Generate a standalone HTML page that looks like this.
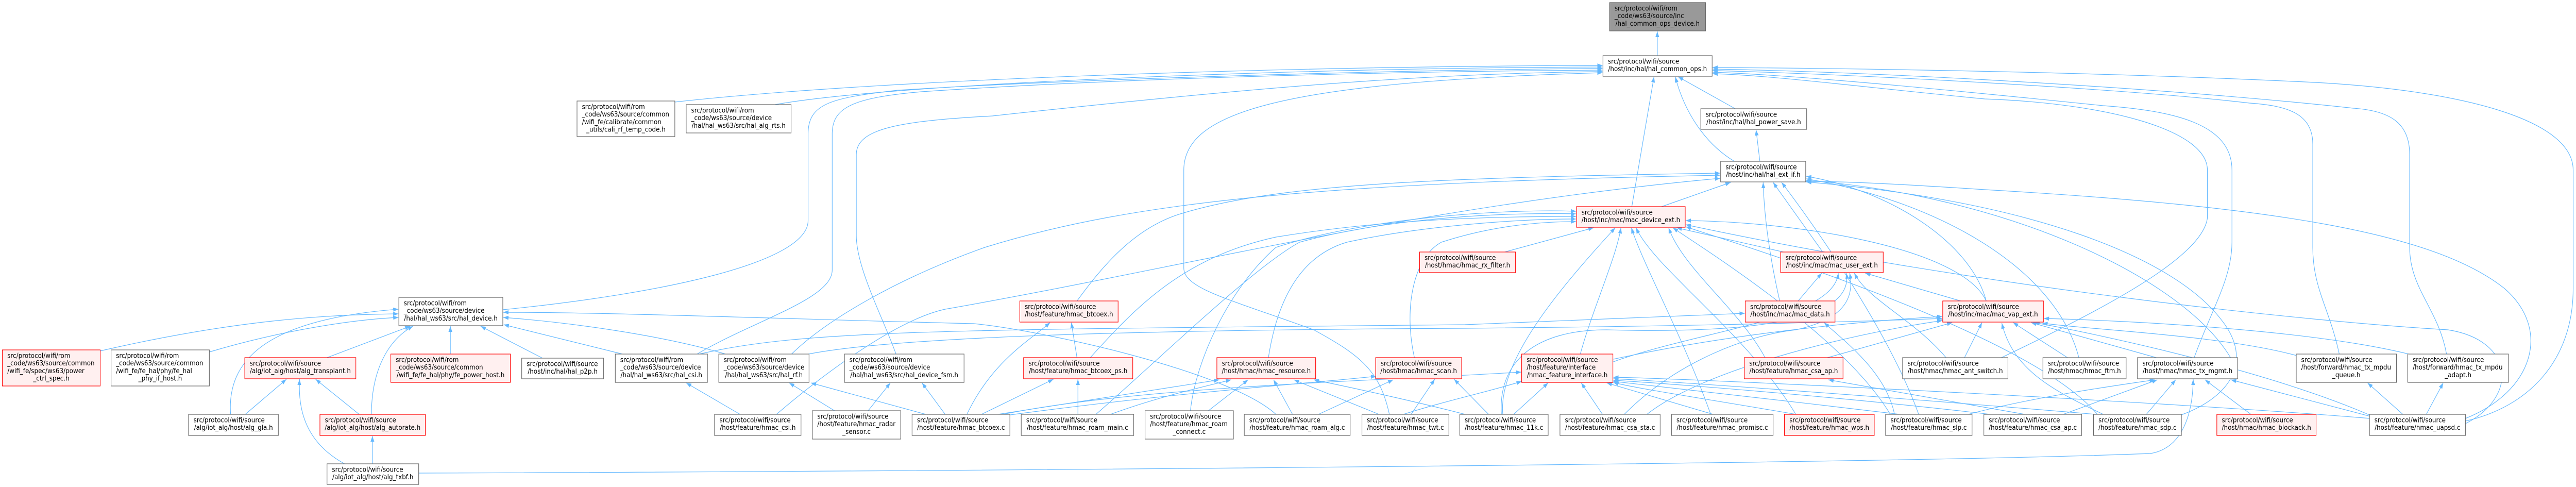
<!DOCTYPE html>
<html><head><meta charset="utf-8"><style>
html,body{margin:0;padding:0;background:#fff;overflow:hidden;width:100%;height:100%;}
svg{display:block;width:100vw;height:100vh;}
.w{fill:#ffffff;stroke:#666666;stroke-width:1.2;}
.r{fill:#fff0f0;stroke:#ff0000;stroke-width:1.2;}
.g{fill:#999999;stroke:#666666;stroke-width:1.2;}
text{font-family:"DejaVu Sans","Liberation Sans",sans-serif;font-size:13px;fill:#000;}
.e path{fill:none;stroke:#63b8ff;stroke-width:1.2;}
</style></head><body>
<svg width="5451" height="945" viewBox="0 0 5451 945" preserveAspectRatio="none" xmlns="http://www.w3.org/2000/svg">
<defs><marker id="a" viewBox="0 0 11 8" refX="11" refY="4" markerWidth="11" markerHeight="8" markerUnits="userSpaceOnUse" orient="auto"><path d="M0,0 L11,4 L0,8 z" fill="#63b8ff"/></marker></defs>
<rect width="5451" height="945" fill="#fff"/>
<g class="e">
<path marker-end="url(#a)" d="M3507,108 L3507,61"/>
<path marker-end="url(#a)" d="M3672,211 L3551,149"/>
<path marker-end="url(#a)" d="M3724,313 L3716,252"/>
<path marker-end="url(#a)" d="M3670,313 C3610,280 3565,220 3545,149"/>
<path marker-end="url(#a)" d="M3453,401 L3500,149"/>
<path marker-end="url(#a)" d="M3516,401 L3662,354"/>
<path marker-end="url(#a)" d="M3184,489 L3372,442"/>
<path marker-end="url(#a)" d="M3774,489 L3548,442"/>
<path marker-end="url(#a)" d="M3857,489 L3752,354"/>
<path marker-end="url(#a)" d="M3805,584 L3855,530"/>
<path marker-end="url(#a)" d="M3766,584 C3745,500 3733,420 3731,354"/>
<path marker-end="url(#a)" d="M4149,584 L3947,530"/>
<path marker-end="url(#a)" d="M4203,584 C4150,480 3800,430 3567,428"/>
<path marker-end="url(#a)" d="M4203,584 C4170,470 4000,370 3822,342"/>
<path marker-end="url(#a)" d="M4157,694 L4194,626"/>
<path marker-end="url(#a)" d="M4118,694 C4050,620 3950,580 3924,530"/>
<path marker-end="url(#a)" d="M4375,694 L4260,626"/>
<path marker-end="url(#a)" d="M4399,694 C4350,520 4100,390 3822,347"/>
<path marker-end="url(#a)" d="M4563,694 L4298,626"/>
<path marker-end="url(#a)" d="M4720,694 C4620,540 4250,380 3822,350"/>
<path marker-end="url(#a)" d="M4235,694 C4450,600 4660,500 4671,423 L4671,330 C4671,250 4450,200 4200,192 C3950,170 3750,146 3624,143"/>
<path marker-end="url(#a)" d="M4643,694 C4680,600 4723,540 4723,470 L4723,330 C4723,240 4600,215 4450,205 C4100,172 3800,146 3624,140"/>
<path marker-end="url(#a)" d="M4950,687 C4930,600 4894,560 4894,480 L4894,280 C4894,220 4840,205 4760,200 C4500,172 3900,143 3624,137"/>
<path marker-end="url(#a)" d="M5177,687 C5160,600 5099,560 5099,480 L5099,300 C5099,240 5060,215 4980,210 C4600,172 4000,140 3624,134"/>
<path marker-end="url(#a)" d="M5217,817 C5350,790 5445,700 5445,560 L5445,330 C5445,230 5200,175 4900,160 C4500,142 4000,133 3624,131"/>
<path marker-end="url(#a)" d="M4860,690 C4700,650 4420,640 4322,627"/>
<path marker-end="url(#a)" d="M5110,690 C4900,640 4500,622 4325,618"/>
<path marker-end="url(#a)" d="M5016,806 C4800,720 4450,650 4305,626"/>
<path marker-end="url(#a)" d="M3867,694 L4131,626"/>
<path marker-end="url(#a)" d="M3735,694 C3680,600 3560,520 3531,442"/>
<path marker-end="url(#a)" d="M3414,697 C3700,640 4000,620 4110,614"/>
<path marker-end="url(#a)" d="M3344,687 C3370,600 3420,500 3430,442"/>
<path marker-end="url(#a)" d="M3414,702 C3600,640 3880,620 3890,530"/>
<path marker-end="url(#a)" d="M5087,806 L5010,743"/>
<path marker-end="url(#a)" d="M5133,806 L5170,743"/>
<path marker-end="url(#a)" d="M5217,812 C5360,760 5400,640 5300,560 C5150,450 4800,400 4200,368 C4000,356 3900,352 3822,352"/>
<path marker-end="url(#a)" d="M5217,822 C5330,770 5320,660 5180,640 C4900,625 4200,560 3567,436"/>
<path marker-end="url(#a)" d="M5016,808 L4721,737"/>
<path marker-end="url(#a)" d="M5016,812 C4600,780 3600,735 3414,732"/>
<path marker-end="url(#a)" d="M4766,806 L4666,737"/>
<path marker-end="url(#a)" d="M4540,806 L4604,737"/>
<path marker-end="url(#a)" d="M4616,805 C4720,770 4770,700 4700,620 C4600,500 4300,390 3822,353"/>
<path marker-end="url(#a)" d="M4455,806 C4350,760 4260,720 4236,627"/>
<path marker-end="url(#a)" d="M4440,806 C4300,650 3700,480 3567,440"/>
<path marker-end="url(#a)" d="M4460,806 C4000,770 3500,738 3414,735"/>
<path marker-end="url(#a)" d="M4360,806 L4565,737"/>
<path marker-end="url(#a)" d="M4297,806 L3869,737"/>
<path marker-end="url(#a)" d="M4230,806 C3900,770 3500,742 3414,738"/>
<path marker-end="url(#a)" d="M4157,806 C4300,770 4500,745 4560,737"/>
<path marker-end="url(#a)" d="M4020,804 C3800,780 3500,748 3414,740"/>
<path marker-end="url(#a)" d="M4000,804 C3900,650 3600,480 3540,442"/>
<path marker-end="url(#a)" d="M4009,804 C3990,720 3900,660 3860,626"/>
<path marker-end="url(#a)" d="M4060,804 C4000,650 3850,450 3770,354"/>
<path marker-end="url(#a)" d="M3800,804 C3650,780 3450,752 3414,742"/>
<path marker-end="url(#a)" d="M3800,804 C3700,650 3500,520 3462,442"/>
<path marker-end="url(#a)" d="M3625,804 L3400,743"/>
<path marker-end="url(#a)" d="M3620,804 C3560,650 3480,520 3452,442"/>
<path marker-end="url(#a)" d="M3391,804 L3346,743"/>
<path marker-end="url(#a)" d="M3485,804 C3600,720 3900,650 4110,622"/>
<path marker-end="url(#a)" d="M3437,804 C3550,700 3700,650 3800,640 C3900,620 3925,580 3914,530"/>
<path marker-end="url(#a)" d="M3203,804 L3276,743"/>
<path marker-end="url(#a)" d="M3180,804 C3170,700 3300,560 3418,442"/>
<path marker-end="url(#a)" d="M3177,804 C3170,700 3250,640 3400,640 C3800,650 3920,600 3907,530"/>
<path marker-end="url(#a)" d="M3150,804 L3077,736"/>
<path marker-end="url(#a)" d="M3100,804 C3000,780 2850,750 2780,737"/>
<path marker-end="url(#a)" d="M2970,804 C3050,780 3150,760 3220,740"/>
<path marker-end="url(#a)" d="M2986,804 L3036,736"/>
<path marker-end="url(#a)" d="M2918,804 L2738,737"/>
<path marker-end="url(#a)" d="M2940,804 C2920,720 2880,690 2780,640 C2600,580 2505,560 2505,520 L2505,330 C2505,220 2700,160 3391,141"/>
<path marker-end="url(#a)" d="M2790,804 L2948,737"/>
<path marker-end="url(#a)" d="M2735,804 L2695,737"/>
<path marker-end="url(#a)" d="M2700,804 C2600,720 2200,640 2060,628 C1700,620 1300,606 1065,606"/>
<path marker-end="url(#a)" d="M2557,797 L2641,737"/>
<path marker-end="url(#a)" d="M2519,797 C2530,700 2600,560 2700,480 C2900,420 3200,405 3335,410"/>
<path marker-end="url(#a)" d="M2350,804 C2450,770 2550,750 2605,737"/>
<path marker-end="url(#a)" d="M2281,804 L2281,736"/>
<path marker-end="url(#a)" d="M2319,804 C2450,700 2650,520 2750,470 C2950,420 3200,412 3335,415"/>
<path marker-end="url(#a)" d="M2077,804 L2229,736"/>
<path marker-end="url(#a)" d="M2046,804 C2100,700 2180,660 2222,626"/>
<path marker-end="url(#a)" d="M2112,804 L2580,737"/>
<path marker-end="url(#a)" d="M2130,806 C2500,760 2800,742 2912,730"/>
<path marker-end="url(#a)" d="M2112,806 C2400,750 2900,740 3219,722"/>
<path marker-end="url(#a)" d="M1959,804 L1716,743"/>
<path marker-end="url(#a)" d="M2000,804 L1951,743"/>
<path marker-end="url(#a)" d="M2279,694 L2267,626"/>
<path marker-end="url(#a)" d="M2307,694 C2400,600 2500,500 2700,460 C2900,430 3100,420 3335,420"/>
<path marker-end="url(#a)" d="M2279,584 C2330,520 2400,440 2505,413 C2700,360 3000,345 3640,336"/>
<path marker-end="url(#a)" d="M2684,694 C2700,600 2740,500 2850,470 C3000,440 3200,425 3335,425"/>
<path marker-end="url(#a)" d="M2993,694 C2970,600 2990,500 3050,470 C3150,440 3250,430 3335,430"/>
<path marker-end="url(#a)" d="M1675,687 C1750,620 1900,540 2084,480 C2400,390 2800,355 3640,340"/>
<path marker-end="url(#a)" d="M1700,689 C1900,650 2500,640 3100,637 C3600,633 3900,625 4110,618"/>
<path marker-end="url(#a)" d="M1480,687 C1700,640 2000,640 3100,630 C3400,620 3600,610 3692,608"/>
<path marker-end="url(#a)" d="M1475,687 C1600,620 1761,580 1761,524 L1761,260 C1761,210 1800,190 1950,178 C2400,150 3000,138 3391,136"/>
<path marker-end="url(#a)" d="M1064,601 C1400,570 1710,510 1710,428 L1710,260 C1710,200 1760,190 1900,175 C2300,152 3000,135 3391,133"/>
<path marker-end="url(#a)" d="M1896,687 C1870,620 1812,520 1812,457 L1812,300 C1812,250 1900,235 2100,225 C2600,175 3000,142 3391,139"/>
<path marker-end="url(#a)" d="M1428,198 C1900,150 2800,128 3391,127"/>
<path marker-end="url(#a)" d="M1640,203 C1900,160 2800,131 3391,130"/>
<path marker-end="url(#a)" d="M1566,804 L1452,743"/>
<path marker-end="url(#a)" d="M1643,804 C1750,720 1900,620 2000,600 C2500,520 3000,400 3640,346"/>
<path marker-end="url(#a)" d="M1766,797 L1670,743"/>
<path marker-end="url(#a)" d="M1837,797 L1884,743"/>
<path marker-end="url(#a)" d="M953,687 L953,633"/>
<path marker-end="url(#a)" d="M1148,695 L1017,633"/>
<path marker-end="url(#a)" d="M1317,687 L1066,630"/>
<path marker-end="url(#a)" d="M1535,687 C1400,650 1200,625 1065,616"/>
<path marker-end="url(#a)" d="M212,681 C500,620 700,610 843,609"/>
<path marker-end="url(#a)" d="M443,683 C600,640 750,620 843,616"/>
<path marker-end="url(#a)" d="M692,694 C760,670 820,650 868,633"/>
<path marker-end="url(#a)" d="M488,804 C480,700 560,620 843,600"/>
<path marker-end="url(#a)" d="M786,804 C786,720 820,660 874,633"/>
<path marker-end="url(#a)" d="M519,804 L606,736"/>
<path marker-end="url(#a)" d="M760,804 L668,736"/>
<path marker-end="url(#a)" d="M788,900 L788,846"/>
<path marker-end="url(#a)" d="M729,900 C650,860 630,800 634,736"/>
<path marker-end="url(#a)" d="M886,918 C2000,915 4000,900 4550,880 C4620,870 4640,800 4641,736"/>
</g>

<rect class="g" x="3406" y="5" width="203" height="55"/>
<text x="3416.5" y="20.5">src/protocol/wifi/rom</text><text x="3416.5" y="35.2">_code/ws63/source/inc</text><text x="3507.5" y="49.9" text-anchor="middle">/hal_common_ops_device.h</text>

<rect class="w" x="3392" y="108" width="231" height="40"/>
<text x="3402.5" y="123.5">src/protocol/wifi/source</text><text x="3507.5" y="138.2" text-anchor="middle">/host/inc/hal/hal_common_ops.h</text>

<rect class="w" x="1221" y="196" width="207" height="69"/>
<text x="1231.5" y="211.5">src/protocol/wifi/rom</text><text x="1231.5" y="226.2">_code/ws63/source/common</text><text x="1231.5" y="240.9">/wifi_fe/calibrate/common</text><text x="1324.5" y="255.6" text-anchor="middle">_utils/cali_rf_temp_code.h</text>

<rect class="w" x="1452" y="203" width="222" height="55"/>
<text x="1462.5" y="218.5">src/protocol/wifi/rom</text><text x="1462.5" y="233.2">_code/ws63/source/device</text><text x="1563" y="247.9" text-anchor="middle">/hal/hal_ws63/src/hal_alg_rts.h</text>

<rect class="w" x="3599" y="211" width="224" height="40"/>
<text x="3609.5" y="226.5">src/protocol/wifi/source</text><text x="3711" y="241.2" text-anchor="middle">/host/inc/hal/hal_power_save.h</text>

<rect class="w" x="3641" y="313" width="180" height="40"/>
<text x="3651.5" y="328.5">src/protocol/wifi/source</text><text x="3731" y="343.2" text-anchor="middle">/host/inc/hal/hal_ext_if.h</text>

<rect class="r" x="3336" y="401" width="230" height="40"/>
<text x="3346.5" y="416.5">src/protocol/wifi/source</text><text x="3451" y="431.2" text-anchor="middle">/host/inc/mac/mac_device_ext.h</text>

<rect class="r" x="3004" y="489" width="203" height="40"/>
<text x="3014.5" y="504.5">src/protocol/wifi/source</text><text x="3105.5" y="519.2" text-anchor="middle">/host/hmac/hmac_rx_filter.h</text>

<rect class="r" x="3768" y="489" width="217" height="40"/>
<text x="3778.5" y="504.5">src/protocol/wifi/source</text><text x="3876.5" y="519.2" text-anchor="middle">/host/inc/mac/mac_user_ext.h</text>

<rect class="w" x="844" y="577" width="220" height="55"/>
<text x="854.5" y="592.5">src/protocol/wifi/rom</text><text x="854.5" y="607.2">_code/ws63/source/device</text><text x="954" y="621.9" text-anchor="middle">/hal/hal_ws63/src/hal_device.h</text>

<rect class="r" x="2158" y="584" width="208" height="41"/>
<text x="2168.5" y="599.5">src/protocol/wifi/source</text><text x="2262" y="614.2" text-anchor="middle">/host/feature/hmac_btcoex.h</text>

<rect class="r" x="3693" y="584" width="190" height="41"/>
<text x="3703.5" y="599.5">src/protocol/wifi/source</text><text x="3788" y="614.2" text-anchor="middle">/host/inc/mac/mac_data.h</text>

<rect class="r" x="4111" y="584" width="213" height="41"/>
<text x="4121.5" y="599.5">src/protocol/wifi/source</text><text x="4217.5" y="614.2" text-anchor="middle">/host/inc/mac/mac_vap_ext.h</text>

<rect class="r" x="5" y="679" width="207" height="70"/>
<text x="15.5" y="694.5">src/protocol/wifi/rom</text><text x="15.5" y="709.2">_code/ws63/source/common</text><text x="15.5" y="723.9">/wifi_fe/spec/ws63/power</text><text x="108.5" y="738.6" text-anchor="middle">_ctrl_spec.h</text>

<rect class="w" x="235" y="679" width="208" height="70"/>
<text x="245.5" y="694.5">src/protocol/wifi/rom</text><text x="245.5" y="709.2">_code/ws63/source/common</text><text x="245.5" y="723.9">/wifi_fe/fe_hal/phy/fe_hal</text><text x="339" y="738.6" text-anchor="middle">_phy_if_host.h</text>

<rect class="r" x="518" y="694" width="235" height="41"/>
<text x="528.5" y="709.5">src/protocol/wifi/source</text><text x="635.5" y="724.2" text-anchor="middle">/alg/iot_alg/host/alg_transplant.h</text>

<rect class="r" x="827" y="687" width="253" height="55"/>
<text x="837.5" y="702.5">src/protocol/wifi/rom</text><text x="837.5" y="717.2">_code/ws63/source/common</text><text x="953.5" y="731.9" text-anchor="middle">/wifi_fe/fe_hal/phy/fe_power_host.h</text>

<rect class="w" x="1104" y="695" width="173" height="40"/>
<text x="1114.5" y="710.5">src/protocol/wifi/source</text><text x="1190.5" y="725.2" text-anchor="middle">/host/inc/hal/hal_p2p.h</text>

<rect class="w" x="1302" y="687" width="195" height="55"/>
<text x="1312.5" y="702.5">src/protocol/wifi/rom</text><text x="1312.5" y="717.2">_code/ws63/source/device</text><text x="1399.5" y="731.9" text-anchor="middle">/hal/hal_ws63/src/hal_csi.h</text>

<rect class="w" x="1521" y="687" width="191" height="55"/>
<text x="1531.5" y="702.5">src/protocol/wifi/rom</text><text x="1531.5" y="717.2">_code/ws63/source/device</text><text x="1616.5" y="731.9" text-anchor="middle">/hal/hal_ws63/src/hal_rf.h</text>

<rect class="w" x="1787" y="687" width="253" height="55"/>
<text x="1797.5" y="702.5">src/protocol/wifi/rom</text><text x="1797.5" y="717.2">_code/ws63/source/device</text><text x="1913.5" y="731.9" text-anchor="middle">/hal/hal_ws63/src/hal_device_fsm.h</text>

<rect class="r" x="2166" y="694" width="231" height="41"/>
<text x="2176.5" y="709.5">src/protocol/wifi/source</text><text x="2281.5" y="724.2" text-anchor="middle">/host/feature/hmac_btcoex_ps.h</text>

<rect class="r" x="2575" y="694" width="209" height="41"/>
<text x="2585.5" y="709.5">src/protocol/wifi/source</text><text x="2679.5" y="724.2" text-anchor="middle">/host/hmac/hmac_resource.h</text>

<rect class="r" x="2911" y="694" width="182" height="41"/>
<text x="2921.5" y="709.5">src/protocol/wifi/source</text><text x="3002" y="724.2" text-anchor="middle">/host/hmac/hmac_scan.h</text>

<rect class="r" x="3220" y="687" width="193" height="55"/>
<text x="3230.5" y="702.5">src/protocol/wifi/source</text><text x="3230.5" y="717.2">/host/feature/interface</text><text x="3316.5" y="731.9" text-anchor="middle">/hmac_feature_interface.h</text>

<rect class="r" x="3691" y="694" width="209" height="41"/>
<text x="3701.5" y="709.5">src/protocol/wifi/source</text><text x="3795.5" y="724.2" text-anchor="middle">/host/feature/hmac_csa_ap.h</text>

<rect class="w" x="4026" y="694" width="223" height="41"/>
<text x="4036.5" y="709.5">src/protocol/wifi/source</text><text x="4137.5" y="724.2" text-anchor="middle">/host/hmac/hmac_ant_switch.h</text>

<rect class="w" x="4323" y="694" width="176" height="41"/>
<text x="4333.5" y="709.5">src/protocol/wifi/source</text><text x="4411" y="724.2" text-anchor="middle">/host/hmac/hmac_ftm.h</text>

<rect class="w" x="4523" y="694" width="212" height="41"/>
<text x="4533.5" y="709.5">src/protocol/wifi/source</text><text x="4629" y="724.2" text-anchor="middle">/host/hmac/hmac_tx_mgmt.h</text>

<rect class="w" x="4859" y="687" width="212" height="55"/>
<text x="4869.5" y="702.5">src/protocol/wifi/source</text><text x="4869.5" y="717.2">/host/forward/hmac_tx_mpdu</text><text x="4965" y="731.9" text-anchor="middle">_queue.h</text>

<rect class="w" x="5095" y="687" width="213" height="55"/>
<text x="5105.5" y="702.5">src/protocol/wifi/source</text><text x="5105.5" y="717.2">/host/forward/hmac_tx_mpdu</text><text x="5201.5" y="731.9" text-anchor="middle">_adapt.h</text>

<rect class="w" x="399" y="804" width="190" height="41"/>
<text x="409.5" y="819.5">src/protocol/wifi/source</text><text x="494" y="834.2" text-anchor="middle">/alg/iot_alg/host/alg_gla.h</text>

<rect class="r" x="677" y="804" width="223" height="41"/>
<text x="687.5" y="819.5">src/protocol/wifi/source</text><text x="788.5" y="834.2" text-anchor="middle">/alg/iot_alg/host/alg_autorate.h</text>

<rect class="w" x="1512" y="804" width="183" height="41"/>
<text x="1522.5" y="819.5">src/protocol/wifi/source</text><text x="1603.5" y="834.2" text-anchor="middle">/host/feature/hmac_csi.h</text>

<rect class="w" x="1719" y="797" width="187" height="55"/>
<text x="1729.5" y="812.5">src/protocol/wifi/source</text><text x="1729.5" y="827.2">/host/feature/hmac_radar</text><text x="1812.5" y="841.9" text-anchor="middle">_sensor.c</text>

<rect class="w" x="1930" y="804" width="207" height="41"/>
<text x="1940.5" y="819.5">src/protocol/wifi/source</text><text x="2033.5" y="834.2" text-anchor="middle">/host/feature/hmac_btcoex.c</text>

<rect class="w" x="2161" y="804" width="238" height="41"/>
<text x="2171.5" y="819.5">src/protocol/wifi/source</text><text x="2280" y="834.2" text-anchor="middle">/host/feature/hmac_roam_main.c</text>

<rect class="w" x="2423" y="797" width="187" height="55"/>
<text x="2433.5" y="812.5">src/protocol/wifi/source</text><text x="2433.5" y="827.2">/host/feature/hmac_roam</text><text x="2516.5" y="841.9" text-anchor="middle">_connect.c</text>

<rect class="w" x="2633" y="804" width="224" height="41"/>
<text x="2643.5" y="819.5">src/protocol/wifi/source</text><text x="2745" y="834.2" text-anchor="middle">/host/feature/hmac_roam_alg.c</text>

<rect class="w" x="2882" y="804" width="184" height="41"/>
<text x="2892.5" y="819.5">src/protocol/wifi/source</text><text x="2974" y="834.2" text-anchor="middle">/host/feature/hmac_twt.c</text>

<rect class="w" x="3089" y="804" width="187" height="41"/>
<text x="3099.5" y="819.5">src/protocol/wifi/source</text><text x="3182.5" y="834.2" text-anchor="middle">/host/feature/hmac_11k.c</text>

<rect class="w" x="3301" y="804" width="212" height="41"/>
<text x="3311.5" y="819.5">src/protocol/wifi/source</text><text x="3407" y="834.2" text-anchor="middle">/host/feature/hmac_csa_sta.c</text>

<rect class="w" x="3537" y="804" width="215" height="41"/>
<text x="3547.5" y="819.5">src/protocol/wifi/source</text><text x="3644.5" y="834.2" text-anchor="middle">/host/feature/hmac_promisc.c</text>

<rect class="r" x="3776" y="804" width="190" height="41"/>
<text x="3786.5" y="819.5">src/protocol/wifi/source</text><text x="3871" y="834.2" text-anchor="middle">/host/feature/hmac_wps.h</text>

<rect class="w" x="3990" y="804" width="183" height="41"/>
<text x="4000.5" y="819.5">src/protocol/wifi/source</text><text x="4081.5" y="834.2" text-anchor="middle">/host/feature/hmac_slp.c</text>

<rect class="w" x="4198" y="804" width="207" height="41"/>
<text x="4208.5" y="819.5">src/protocol/wifi/source</text><text x="4301.5" y="834.2" text-anchor="middle">/host/feature/hmac_csa_ap.c</text>

<rect class="w" x="4430" y="804" width="186" height="41"/>
<text x="4440.5" y="819.5">src/protocol/wifi/source</text><text x="4523" y="834.2" text-anchor="middle">/host/feature/hmac_sdp.c</text>

<rect class="r" x="4691" y="804" width="210" height="41"/>
<text x="4701.5" y="819.5">src/protocol/wifi/source</text><text x="4796" y="834.2" text-anchor="middle">/host/hmac/hmac_blockack.h</text>

<rect class="w" x="5014" y="804" width="203" height="41"/>
<text x="5024.5" y="819.5">src/protocol/wifi/source</text><text x="5115.5" y="834.2" text-anchor="middle">/host/feature/hmac_uapsd.c</text>

<rect class="w" x="692" y="900" width="194" height="40"/>
<text x="702.5" y="915.5">src/protocol/wifi/source</text><text x="789" y="930.2" text-anchor="middle">/alg/iot_alg/host/alg_txbf.h</text>
</svg>
</body></html>
